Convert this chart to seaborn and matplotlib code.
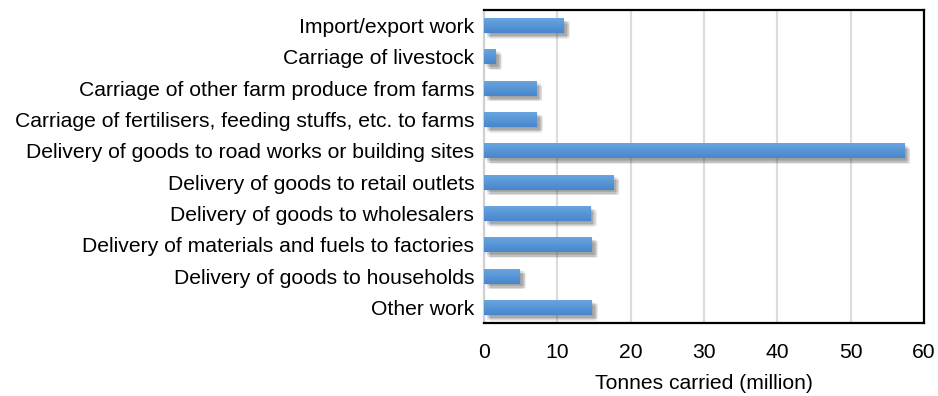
import matplotlib
matplotlib.use("Agg")
import matplotlib.pyplot as plt
import matplotlib.patheffects as pe
import numpy as np
import seaborn as sns
import pandas as pd

categories = [
    "Import/export work",
    "Carriage of livestock",
    "Carriage of other farm produce from farms",
    "Carriage of fertilisers, feeding stuffs, etc. to farms",
    "Delivery of goods to road works or building sites",
    "Delivery of goods to retail outlets",
    "Delivery of goods to wholesalers",
    "Delivery of materials and fuels to factories",
    "Delivery of goods to households",
    "Other work",
]
tonnes = [10.9, 1.6, 7.1, 7.2, 57.3, 17.6, 14.5, 14.7, 4.9, 14.7]
x_ticks = [0, 10, 20, 30, 40, 50, 60]

df = pd.DataFrame({"category": categories, "tonnes": tonnes})

sns.set_theme(style="white")
plt.rcParams["font.family"] = ["Liberation Sans", "DejaVu Sans"]
plt.rcParams["text.color"] = "black"
plt.rcParams["xtick.color"] = "black"
plt.rcParams["ytick.color"] = "black"
plt.rcParams["axes.labelcolor"] = "black"

fig = plt.figure(figsize=(9.38, 3.96), dpi=100)
ax = fig.add_axes([0.516, 0.184, 0.469, 0.791])

sns.barplot(data=df, x="tonnes", y="category", orient="h", color="#5596d8",
            saturation=1, width=0.48, ax=ax, zorder=3)

# soft drop shadow built from several faint offset copies
shadow = [pe.SimplePatchShadow(offset=(dx, -dy), shadow_rgbFace="#404040", alpha=0.09)
          for dx, dy in [(1, 1), (2, 2), (3, 3), (2, 3.5), (3.5, 2), (4, 4), (4.5, 3)]]
shadow.append(pe.Normal())

# vertical light-to-dark blue gradient inside each bar
grad = np.linspace(0, 1, 64).reshape(-1, 1)
cmap = matplotlib.colors.LinearSegmentedColormap.from_list("barfill", ["#6ba6e0", "#4787cd"])
for bar in list(ax.patches):
    bar.set_edgecolor("none")
    bar.set_path_effects(shadow)
    x0, y0 = bar.get_x(), bar.get_y()
    w, h = bar.get_width(), bar.get_height()
    im = ax.imshow(grad, cmap=cmap, aspect="auto", extent=(x0, x0 + w, y0 + h, y0),
                   origin="upper", zorder=4, interpolation="bilinear")
    im.set_clip_path(bar)

ax.set_xlim(0, 60)
ax.set_ylim(len(categories) - 0.5, -0.5)
ax.set_xticks(x_ticks)
ax.set_xticklabels([str(t) for t in x_ticks], fontsize=15.2)
ax.tick_params(axis="y", labelsize=15.2, length=0, pad=7)
ax.tick_params(axis="x", length=0, pad=14)
ax.set_ylabel("")
ax.set_xlabel("Tonnes carried (million)", fontsize=15.2, labelpad=9)

ax.grid(axis="x", color="#dcdcdc", linewidth=1.6, zorder=0)
ax.set_axisbelow(True)

for side in ["top", "right", "bottom"]:
    ax.spines[side].set_color("black")
    ax.spines[side].set_linewidth(1.6)
ax.spines["left"].set_color("#d0d0d0")
ax.spines["left"].set_linewidth(1.6)

fig.savefig("out.png", dpi=100)
